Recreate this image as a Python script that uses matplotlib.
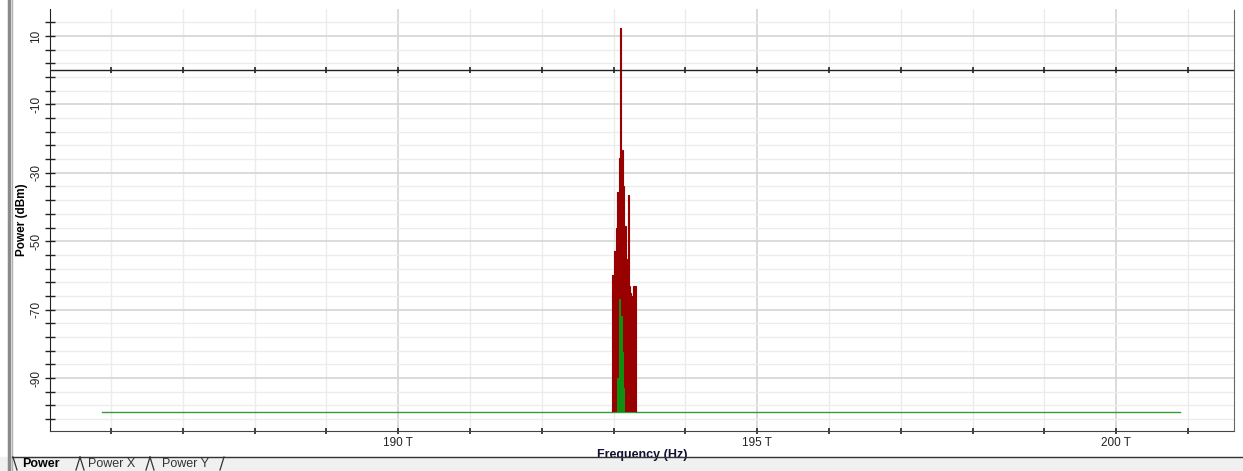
import matplotlib
matplotlib.use("Agg")
from matplotlib import pyplot as plt
from matplotlib.lines import Line2D
from matplotlib.patches import Rectangle
from matplotlib.ticker import MultipleLocator, FuncFormatter

plt.rcParams['font.family'] = ['Liberation Sans Narrow', 'Liberation Sans', 'DejaVu Sans']

# spectrum of the modulated channel (THz bin edges, dBm per bin)
signal_edges = [192.984, 193.008, 193.026, 193.045, 193.068, 193.090, 193.106,
                193.124, 193.138, 193.166, 193.189, 193.202, 193.214, 193.224,
                193.245, 193.273, 193.310]
signal_dbm = [-60, -53, -46, -35.5, -25.6, 12.2, -23.3, -34, -45.6, -55.3,
              -63, -36.6, -63, -65, -66, -63]

# noise under the channel
noise_edges = [193.050, 193.078, 193.102, 193.124, 193.148, 193.162]
noise_dbm = [-90, -67, -72, -82.5, -93]

# noise floor across the band
floor_thz = [185.88, 200.89]
floor_dbm = [-100, -100]

baseline = -100
ref_level = 0

fig = plt.figure(figsize=(12.43, 4.71), dpi=100)
ax = fig.add_axes([0.0402, 0.0849, 0.9526, 0.8960])

ax.set_xlim(185.15, 201.64)
ax.set_ylim(-105.5, 17.9)

# grid: light every 1 THz / 4 dB, darker on the labelled ones
ax.xaxis.set_major_locator(MultipleLocator(5))
ax.xaxis.set_minor_locator(MultipleLocator(1))
ax.yaxis.set_major_locator(MultipleLocator(20, offset=10))
ax.yaxis.set_minor_locator(MultipleLocator(4, offset=2))
ax.grid(which='minor', color='#ececec', lw=1.0)
ax.grid(which='major', color='#d4d4d4', lw=1.2)
ax.set_axisbelow(True)

ax.plot(floor_thz, floor_dbm, color='#3a9a3a', lw=1.0, zorder=2)
ax.stairs(signal_dbm, signal_edges, baseline=baseline, fill=True,
          color='#990000', zorder=3)
ax.stairs(signal_dbm, signal_edges, baseline=baseline, fill=False,
          color='#990000', lw=0.8, zorder=3)
ax.stairs(noise_dbm, noise_edges, baseline=baseline, fill=True,
          color='#109010', zorder=4)

# 0 dBm reference line with its tick marks
ax.axhline(ref_level, color='#222222', lw=1.0, zorder=5)
ticks_thz = list(range(186, 202))
ax.plot(ticks_thz, [ref_level] * len(ticks_thz), ls='none', marker='|',
        ms=4, mew=1.2, color='#222222', zorder=5)

ax.xaxis.set_major_formatter(FuncFormatter(lambda v, p: '%d T' % v))
ax.yaxis.set_major_formatter(FuncFormatter(lambda v, p: '%d' % v))
ax.tick_params(axis='x', which='both', direction='inout', length=4,
               width=1.2, color='#222222', labelsize=8.5, pad=2,
               labelcolor='#222222')
ax.tick_params(axis='y', which='both', direction='inout', length=7,
               width=1.0, color='#222222', labelsize=8.5, pad=2,
               labelcolor='#222222')
for lbl in ax.get_yticklabels():
    lbl.set_rotation(90)
    lbl.set_va('center')

ax.spines['top'].set_visible(False)
ax.spines['left'].set_color('#222222')
ax.spines['bottom'].set_linestyle((0, (1, 1)))
ax.spines['bottom'].set_color('#444444')
ax.spines['right'].set_linestyle((0, (1, 1)))
ax.spines['right'].set_color('#666666')

ax.set_xlabel('Frequency (Hz)', fontsize=9, fontweight='bold',
              color='#111133', labelpad=0)
ax.set_ylabel('Power (dBm)', fontsize=8.5, fontweight='bold')
ax.yaxis.set_label_coords(-0.0186, 0.5)

# window frame and tab strip
W, H = 1243.0, 471.0


def fx(px):
    return px / W


def fy(py):
    return 1 - py / H


fig.add_artist(Rectangle((fx(0), 0), 1, fy(457), color='#f0f0f0',
                         transform=fig.transFigure, zorder=0))
fig.add_artist(Line2D([fx(9), fx(9)], [0, 1], color='#8a8a8a', lw=2.5,
                      transform=fig.transFigure))
fig.add_artist(Line2D([fx(12), fx(12)], [0, 1], color='#b0b0b0', lw=1.0,
                      transform=fig.transFigure))
fig.add_artist(Line2D([fx(12), 1], [fy(457), fy(457)], color='#333333',
                      lw=1.0, transform=fig.transFigure))
tab_lines = [((13, 457), (17, 470)), ((76, 470), (80, 457)),
             ((80, 457), (84, 470)), ((146, 470), (150, 457)),
             ((150, 457), (154, 470)), ((220, 470), (224, 457))]
for (x0, y0), (x1, y1) in tab_lines:
    fig.add_artist(Line2D([fx(x0), fx(x1)], [fy(y0), fy(y1)],
                          color='#333333', lw=0.9, transform=fig.transFigure))
fig.text(fx(22), fy(464), 'Power', fontsize=9, fontweight='bold',
         va='center', ha='left')
fig.text(fx(88), fy(464), 'Power X', fontsize=9, va='center', ha='left',
         color='#333333')
fig.text(fx(162), fy(464), 'Power Y', fontsize=9, va='center', ha='left',
         color='#333333')

fig.savefig('out.png', dpi=100)
